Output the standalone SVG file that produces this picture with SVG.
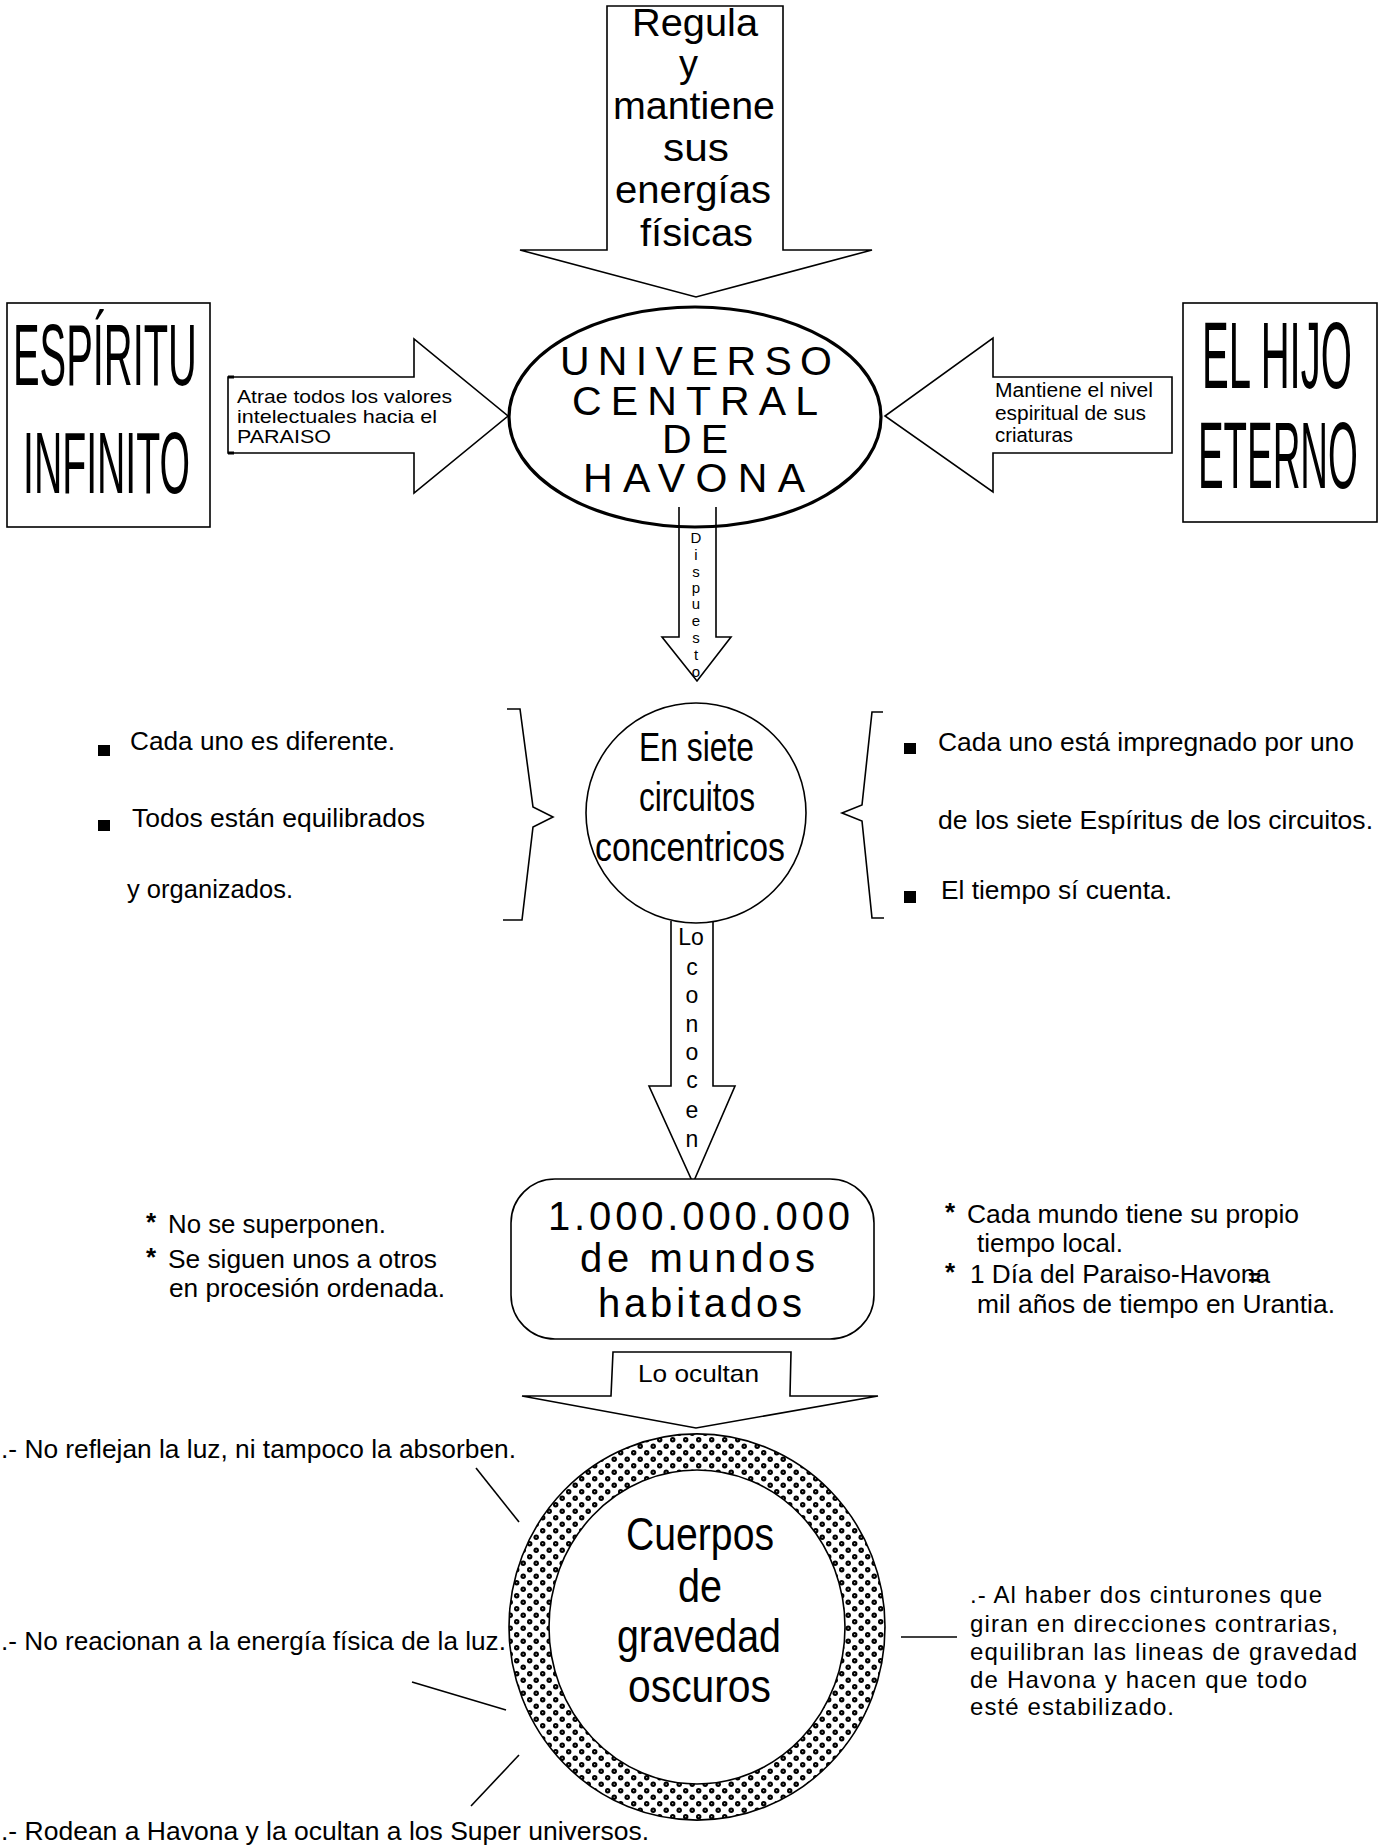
<svg xmlns="http://www.w3.org/2000/svg" width="1379" height="1846" viewBox="0 0 1379 1846">
<style>
text{font-family:"Liberation Sans",Arial,sans-serif;fill:#000}
.s{fill:none;stroke:#000;stroke-width:1.6;stroke-linejoin:miter}
.w{fill:#fff;stroke:#000;stroke-width:1.6}
.b{fill:#000}
.ast{font-weight:bold}
</style>
<defs>
<pattern id="dots" width="13" height="13" patternUnits="userSpaceOnUse">
<rect width="13" height="13" fill="#fff"/>
<circle cx="3.2" cy="3.2" r="2.7" fill="#000"/>
<circle cx="9.7" cy="9.7" r="2.7" fill="#000"/>
<rect x="2.7" y="2.7" width="1" height="1" fill="#fff"/>
<rect x="9.2" y="9.2" width="1" height="1" fill="#fff"/>
</pattern>
</defs>
<rect width="1379" height="1846" fill="#fff"/>

<g id="connectors">
<path id="arrow-regula" class="w" d="M607,6 H783 V250 H872 L696,297 L520,250 H607 Z"/>
<path id="arrow-atrae" class="w" d="M228,377 H414 V339 L508,416 L414,493 V453 H228 Z"/>
<path d="M228,377 H234 M228,453 H234" stroke="#000" stroke-width="3"/>
<path id="arrow-mantiene" class="w" d="M1172,377 H993 V338 L885,416 L993,492 V453 H1172 Z"/>
<path id="arrow-dispuesto" class="s" d="M679,507 V637 H662 L697,681 L731,637 H716 V507"/>
<path id="arrow-conocen" class="s" d="M671,921 V1086 H649 L693,1183 L735,1086 H713 V921"/>
<path id="arrow-ocultan" class="w" d="M522,1396 H611 L613,1352 H791 L790,1396 H878 L696,1428 Z"/>
<line class="s" x1="476" y1="1468" x2="519" y2="1522"/>
<line class="s" x1="412" y1="1682" x2="506" y2="1710"/>
<line class="s" x1="471" y1="1806" x2="519" y2="1755"/>
<line class="s" x1="901" y1="1637" x2="957" y2="1637"/>
<path class="s" d="M507,709 H520 L533,807 L553,817 L533,827 L522,920 H503"/>
<path class="s" d="M883,712 H872 L862,805 L842,813 L862,821 L872,918 H884"/>
</g>

<g id="arrow-texts">
<text font-size="38"><tspan x="632" y="36" textLength="126" lengthAdjust="spacingAndGlyphs">Regula</tspan></text>
<text font-size="38"><tspan x="679" y="77">y</tspan></text>
<text font-size="38"><tspan x="613" y="119" textLength="162" lengthAdjust="spacingAndGlyphs">mantiene</tspan></text>
<text font-size="38"><tspan x="663" y="161" textLength="66" lengthAdjust="spacingAndGlyphs">sus</tspan></text>
<text font-size="38"><tspan x="615" y="203" textLength="156" lengthAdjust="spacingAndGlyphs">energías</tspan></text>
<text font-size="38"><tspan x="640" y="246" textLength="113" lengthAdjust="spacingAndGlyphs">físicas</tspan></text>
<text font-size="19"><tspan x="237" y="403" textLength="215" lengthAdjust="spacingAndGlyphs">Atrae todos los valores</tspan><tspan x="237" y="423" textLength="200" lengthAdjust="spacingAndGlyphs">intelectuales hacia el</tspan><tspan x="237" y="443" textLength="94" lengthAdjust="spacingAndGlyphs">PARAISO</tspan></text>
<text font-size="20"><tspan x="995" y="397" textLength="158" lengthAdjust="spacingAndGlyphs">Mantiene el nivel</tspan><tspan x="995" y="420" textLength="151" lengthAdjust="spacingAndGlyphs">espiritual de sus</tspan><tspan x="995" y="442" textLength="78" lengthAdjust="spacingAndGlyphs">criaturas</tspan></text>
<text font-size="15" text-anchor="middle"><tspan x="696" y="543">D</tspan><tspan x="696" y="560">i</tspan><tspan x="696" y="577">s</tspan><tspan x="696" y="593">p</tspan><tspan x="696" y="609">u</tspan><tspan x="696" y="626">e</tspan><tspan x="696" y="643">s</tspan><tspan x="696" y="660">t</tspan><tspan x="696" y="677">o</tspan></text>
<text font-size="23" text-anchor="middle"><tspan x="691" y="945">Lo</tspan><tspan x="692" y="975">c</tspan><tspan x="692" y="1003">o</tspan><tspan x="692" y="1032">n</tspan><tspan x="692" y="1060">o</tspan><tspan x="692" y="1088">c</tspan><tspan x="692" y="1118">e</tspan><tspan x="692" y="1147">n</tspan></text>
<text font-size="24"><tspan x="638" y="1382" textLength="121" lengthAdjust="spacingAndGlyphs">Lo ocultan</tspan></text>
</g>

<g id="espiritu-infinito">
<rect class="w" x="7" y="303" width="203" height="224" stroke-width="2"/>
<text font-size="88" transform="translate(13,385) scale(0.453,1)"><tspan x="0" y="0" textLength="406" lengthAdjust="spacingAndGlyphs">ESPÍRITU</tspan></text>
<text font-size="88" transform="translate(23,493) scale(0.444,1)"><tspan x="0" y="0" textLength="376" lengthAdjust="spacingAndGlyphs">INFINITO</tspan></text>
</g>

<g id="el-hijo-eterno">
<rect class="w" x="1183" y="303" width="194" height="219" stroke-width="2"/>
<text font-size="94" transform="translate(1202,388) scale(0.4225,1)"><tspan x="0" y="0" textLength="355" lengthAdjust="spacingAndGlyphs">EL HIJO</tspan></text>
<text font-size="94" transform="translate(1198,488) scale(0.408,1)"><tspan x="0" y="0" textLength="392" lengthAdjust="spacingAndGlyphs">ETERNO</tspan></text>
</g>

<g id="universo-central">
<ellipse cx="695" cy="417" rx="186" ry="110" fill="none" stroke="#000" stroke-width="3.2"/>
<text font-size="41"><tspan x="560" y="375" textLength="272" lengthAdjust="spacing">UNIVERSO</tspan><tspan x="572" y="415" textLength="246" lengthAdjust="spacing">CENTRAL</tspan><tspan x="662" y="453" textLength="66" lengthAdjust="spacing">DE</tspan><tspan x="583" y="492" textLength="222" lengthAdjust="spacing">HAVONA</tspan></text>
</g>

<g id="siete-circuitos">
<circle cx="696" cy="813" r="110" class="w"/>
<text font-size="41"><tspan x="639" y="761" textLength="115" lengthAdjust="spacingAndGlyphs">En siete</tspan><tspan x="639" y="811" textLength="116" lengthAdjust="spacingAndGlyphs">circuitos</tspan><tspan x="595" y="861" textLength="190" lengthAdjust="spacingAndGlyphs">concentricos</tspan></text>
</g>

<g id="notas-circuitos-izq">
<rect class="b" x="98" y="745" width="12" height="11"/>
<rect class="b" x="98" y="820" width="12" height="11"/>
<text font-size="26"><tspan x="130" y="750" textLength="265" lengthAdjust="spacingAndGlyphs">Cada uno es diferente.</tspan><tspan x="132" y="827" textLength="293" lengthAdjust="spacingAndGlyphs">Todos están equilibrados</tspan><tspan x="127" y="898" textLength="166" lengthAdjust="spacingAndGlyphs">y organizados.</tspan></text>
</g>

<g id="notas-circuitos-der">
<rect class="b" x="904" y="743" width="12" height="11"/>
<rect class="b" x="904" y="891" width="12" height="12"/>
<text font-size="26"><tspan x="938" y="751" textLength="416" lengthAdjust="spacingAndGlyphs">Cada uno está impregnado por uno</tspan><tspan x="938" y="829" textLength="435" lengthAdjust="spacingAndGlyphs">de los siete Espíritus de los circuitos.</tspan><tspan x="941" y="899" textLength="231" lengthAdjust="spacingAndGlyphs">El tiempo sí cuenta.</tspan></text>
</g>

<g id="mundos-habitados">
<rect class="w" x="511" y="1179" width="363" height="160" rx="44" ry="44" stroke-width="2"/>
<text font-size="40"><tspan x="548" y="1230" textLength="302" lengthAdjust="spacing">1.000.000.000</tspan><tspan x="580" y="1272" textLength="235" lengthAdjust="spacing">de mundos</tspan><tspan x="598" y="1317" textLength="204" lengthAdjust="spacing">habitados</tspan></text>
</g>

<g id="notas-mundos-izq">
<text font-size="26"><tspan class="ast" x="146" y="1231">*</tspan><tspan x="168" y="1233" textLength="218" lengthAdjust="spacingAndGlyphs">No se superponen.</tspan></text>
<text font-size="26"><tspan class="ast" x="146" y="1266">*</tspan><tspan x="168" y="1268" textLength="269" lengthAdjust="spacingAndGlyphs">Se siguen unos a otros</tspan></text>
<text font-size="26"><tspan x="169" y="1297" textLength="276" lengthAdjust="spacingAndGlyphs">en procesión ordenada.</tspan></text>
</g>

<g id="notas-mundos-der">
<text font-size="26"><tspan class="ast" x="945" y="1221">*</tspan><tspan x="967" y="1223" textLength="332" lengthAdjust="spacingAndGlyphs">Cada mundo tiene su propio</tspan></text>
<text font-size="26"><tspan x="977" y="1252" textLength="146" lengthAdjust="spacingAndGlyphs">tiempo local.</tspan></text>
<text font-size="26"><tspan class="ast" x="945" y="1281">*</tspan><tspan x="970" y="1283" textLength="300" lengthAdjust="spacingAndGlyphs">1 Día del Paraiso-Havona</tspan></text>
<text font-size="22" font-weight="bold"><tspan x="1248" y="1285">=</tspan></text>
<text font-size="26"><tspan x="977" y="1313" textLength="358" lengthAdjust="spacingAndGlyphs">mil años de tiempo en Urantia.</tspan></text>
</g>

<g id="cuerpos-gravedad">
<path d="M509,1627 a188,193 0 1,0 376,0 a188,193 0 1,0 -376,0 Z M549,1627 a148,157 0 1,0 296,0 a148,157 0 1,0 -296,0 Z" fill="url(#dots)" fill-rule="evenodd" stroke="#000" stroke-width="1.6"/>
<text font-size="47"><tspan x="626" y="1550" textLength="148" lengthAdjust="spacingAndGlyphs">Cuerpos</tspan><tspan x="678" y="1602" textLength="44" lengthAdjust="spacingAndGlyphs">de</tspan><tspan x="617" y="1652" textLength="164" lengthAdjust="spacingAndGlyphs">gravedad</tspan><tspan x="628" y="1702" textLength="143" lengthAdjust="spacingAndGlyphs">oscuros</tspan></text>
</g>

<g id="notas-cuerpos">
<text font-size="26"><tspan x="1" y="1458" textLength="515" lengthAdjust="spacingAndGlyphs">.- No reflejan la luz, ni tampoco la absorben.</tspan></text>
<text font-size="26"><tspan x="1" y="1650" textLength="505" lengthAdjust="spacingAndGlyphs">.- No reacionan a la energía física de la luz.</tspan></text>
<text font-size="26"><tspan x="1" y="1840" textLength="648" lengthAdjust="spacingAndGlyphs">.- Rodean a Havona y la ocultan a los Super universos.</tspan></text>
<text font-size="24"><tspan x="970" y="1603" textLength="352" lengthAdjust="spacing">.- Al haber dos cinturones que</tspan><tspan x="970" y="1632" textLength="368" lengthAdjust="spacing">giran en direcciones contrarias,</tspan><tspan x="970" y="1660" textLength="387" lengthAdjust="spacing">equilibran las lineas de gravedad</tspan><tspan x="970" y="1688" textLength="337" lengthAdjust="spacing">de Havona y hacen que todo</tspan><tspan x="970" y="1715" textLength="204" lengthAdjust="spacing">esté estabilizado.</tspan></text>
</g>
</svg>
